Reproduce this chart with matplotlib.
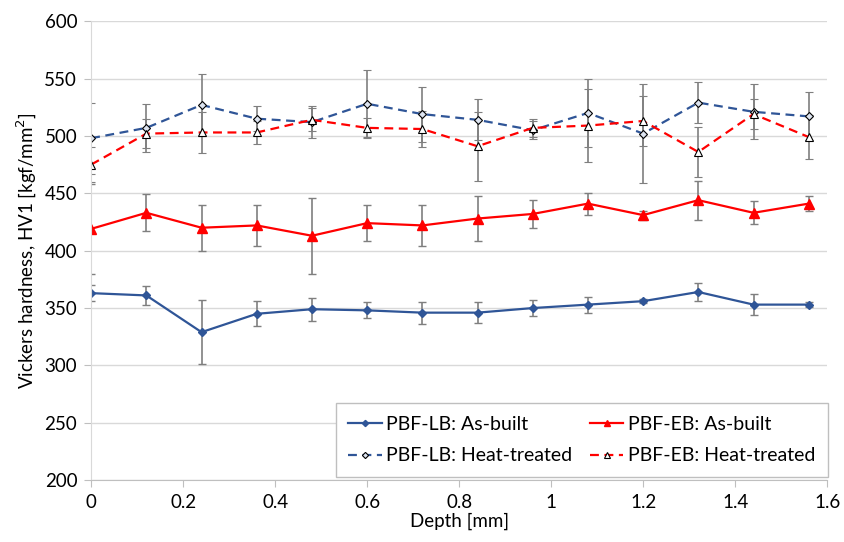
import matplotlib.pyplot as plt

plt.rcParams["font.family"] = ["Lato", "DejaVu Sans"]

depth = [0, 0.12, 0.24, 0.36, 0.48, 0.60, 0.72, 0.84, 0.96, 1.08, 1.20, 1.32, 1.44, 1.56]

lb_built = [363, 361, 329, 345, 349, 348, 346, 346, 350, 353, 356, 364, 353, 353]
lb_built_err = [7, 8.5, 28, 11, 10, 7, 9.5, 9, 7, 7, 2, 8, 9, 2]

eb_built = [419, 433, 420, 422, 413, 424, 422, 428, 432, 441, 431, 444, 433, 441]
eb_built_err = [39, 16, 20, 18, 33, 16, 18, 20, 12, 9.5, 4, 17, 10, 6.5]

lb_heat = [498, 507, 527, 515, 512, 528, 519, 514, 505, 520, 502, 529, 521, 517]
lb_heat_err = [31, 21, 27, 11, 14, 29, 24, 18, 8, 30, 43, 18, 24, 21]

eb_heat = [475, 502, 503, 503, 514, 507, 506, 491, 507, 509, 513, 486, 519, 499]
eb_heat_err = [15, 12.5, 18, 10, 10, 9, 16, 30, 8, 32, 22, 22, 13, 19]

blue = "#2F5597"
red = "#FF0000"
grey_err = "#7F7F7F"

fig, ax = plt.subplots(figsize=(8.44, 5.42), dpi=100)
fig.subplots_adjust(left=0.108, right=0.98, bottom=0.114, top=0.961)

err_kw = dict(ecolor=grey_err, elinewidth=1.2, capsize=3, capthick=1.0, zorder=2)

lbh = ax.errorbar(depth, lb_heat, yerr=lb_heat_err, color=blue, linestyle=(0, (4, 2.5)), linewidth=1.6,
                  marker="D", markersize=4.5, markerfacecolor="#DDE4F0", markeredgecolor="black",
                  markeredgewidth=0.8, **err_kw)
ebh = ax.errorbar(depth, eb_heat, yerr=eb_heat_err, color=red, linestyle=(0, (4, 2.5)), linewidth=1.6,
                  marker="^", markersize=5.5, markerfacecolor="white", markeredgecolor="black",
                  markeredgewidth=0.8, **err_kw)
lbb = ax.errorbar(depth, lb_built, yerr=lb_built_err, color=blue, linewidth=1.6,
                  marker="D", markersize=4.5, markerfacecolor=blue, markeredgecolor=blue, **err_kw)
ebb = ax.errorbar(depth, eb_built, yerr=eb_built_err, color=red, linewidth=1.6,
                  marker="^", markersize=6.5, markerfacecolor=red, markeredgecolor=red, **err_kw)

ax.set_xlim(0, 1.6)
ax.set_ylim(200, 600)
ax.set_xticks([0, 0.2, 0.4, 0.6, 0.8, 1.0, 1.2, 1.4, 1.6])
ax.set_xticklabels(["0", "0.2", "0.4", "0.6", "0.8", "1", "1.2", "1.4", "1.6"])
ax.set_yticks(range(200, 601, 50))
ax.grid(axis="y", color="#D9D9D9", linewidth=1.0)
ax.set_axisbelow(True)

for side in ["top", "right"]:
    ax.spines[side].set_visible(False)
ax.spines["left"].set_color("#D9D9D9")
ax.spines["bottom"].set_color("#BFBFBF")
ax.tick_params(axis="both", length=5, color="#BFBFBF", direction="out",
               labelsize=13.5, labelcolor="black", pad=5)

ax.set_xlabel("Depth [mm]", fontsize=13.5, labelpad=1)
ax.set_ylabel("Vickers hardness, HV1 [kgf/mm$^2$]", fontsize=13.5, labelpad=4)

# columns fill first: col 1 = LB, col 2 = EB
handles = [lbb[0], lbh[0], ebb[0], ebh[0]]
labels = ["PBF-LB: As-built", "PBF-LB: Heat-treated", "PBF-EB: As-built", "PBF-EB: Heat-treated"]
ax.legend(handles, labels, ncol=2, loc="lower right", bbox_to_anchor=(0.981, 0.12),
          bbox_transform=fig.transFigure, borderaxespad=0, fontsize=14,
          frameon=True, fancybox=False, edgecolor="#BFBFBF", framealpha=1, markerscale=0.7,
          handlelength=1.7, handletextpad=0.25, columnspacing=0.9, borderpad=0.65, labelspacing=0.75)

plt.savefig("out.png", dpi=100)
plt.close()
